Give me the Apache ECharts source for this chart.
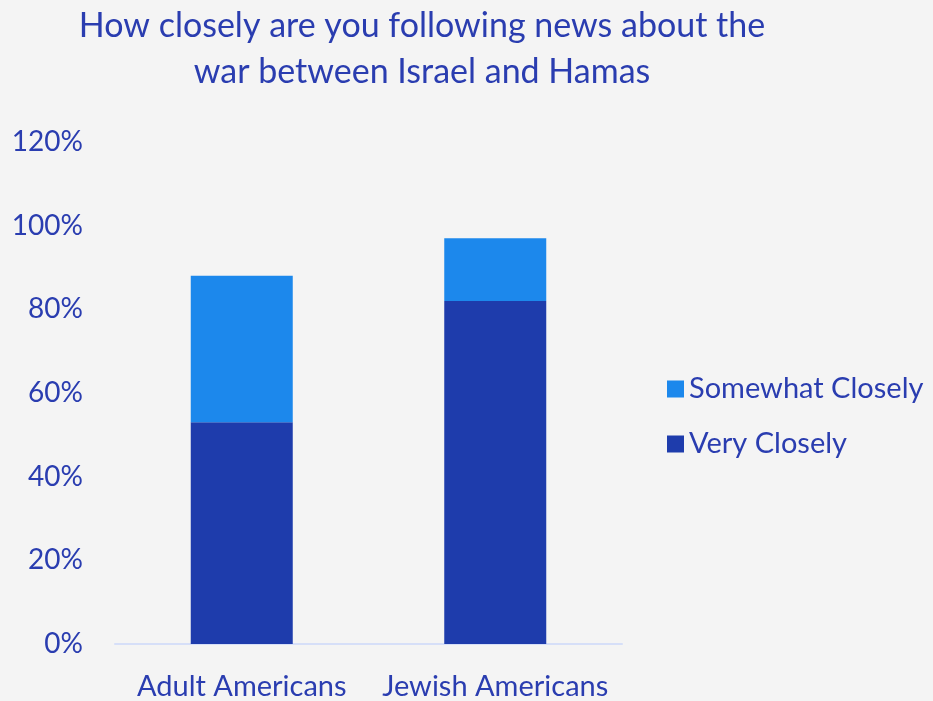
<!DOCTYPE html>
<html><head><meta charset="utf-8">
<script src="https://cdn.jsdelivr.net/npm/echarts@6/dist/echarts.min.js"></script>
<style>html,body{margin:0;padding:0;background:#F4F4F4}#c{width:933px;height:701px}</style>
</head><body><div id="c"></div>
<script>
const categories = ['Adult Americans', 'Jewish Americans'];
const veryClosely = [0.53, 0.82];
const somewhatClosely = [0.35, 0.15];
const yTicks = [0, 0.2, 0.4, 0.6, 0.8, 1.0, 1.2];

const txt = '#2A3DB0';
const font = 'Lato';
const chart = echarts.init(document.getElementById('c'));
chart.setOption({
  backgroundColor: '#F4F4F4',
  animation: false,
  title: {
    text: 'How closely are you following news about the\nwar between Israel and Hamas',
    left: 417, top: -2, textAlign: 'center',
    textStyle: { color: txt, fontFamily: font, fontWeight: 'normal', fontSize: 34, lineHeight: 46 }
  },
  legend: {
    orient: 'vertical', left: 662, top: 369,
    data: ['Somewhat Closely', 'Very Closely'],
    itemWidth: 17, itemHeight: 17, itemGap: 25, icon: 'rect',
    textStyle: { color: txt, fontFamily: font, fontSize: 29, lineHeight: 30 }
  },
  grid: { left: 115, right: 311, top: 142, bottom: 55 },
  xAxis: {
    type: 'category', data: categories,
    axisLine: { lineStyle: { color: '#D6DFF8', width: 2 } },
    axisTick: { show: false },
    axisLabel: { color: txt, fontFamily: font, fontSize: 29, margin: 28, interval: 0 }
  },
  yAxis: {
    type: 'value', min: yTicks[0], max: yTicks[yTicks.length - 1], interval: 0.2,
    axisLine: { show: false }, axisTick: { show: false }, splitLine: { show: false },
    axisLabel: { color: txt, fontFamily: font, fontSize: 28, margin: 32,
      formatter: v => Math.round(v * 100) + '%' }
  },
  series: [
    { name: 'Very Closely', type: 'bar', stack: 's', data: veryClosely, barWidth: 102,
      itemStyle: { color: '#1E3CAC' } },
    { name: 'Somewhat Closely', type: 'bar', stack: 's', data: somewhatClosely, barWidth: 102,
      itemStyle: { color: '#1C88EC' } }
  ]
});
</script></body></html>
